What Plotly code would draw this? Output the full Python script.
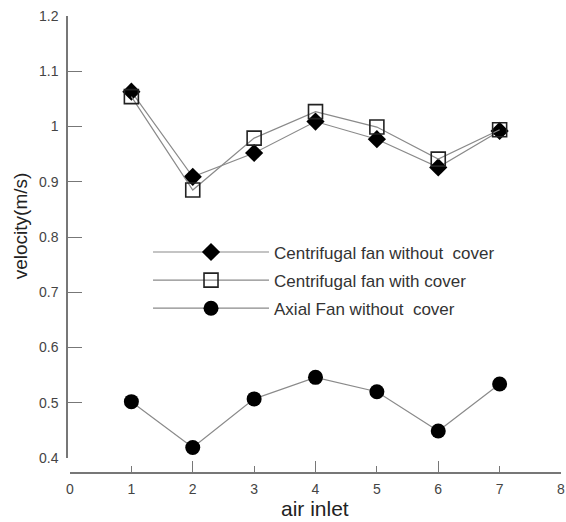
import plotly.graph_objects as go

air_inlet = [1, 2, 3, 4, 5, 6, 7]
cf_without_cover = [1.063, 0.909, 0.952, 1.009, 0.977, 0.926, 0.992]
cf_with_cover = [1.054, 0.885, 0.979, 1.027, 0.999, 0.941, 0.994]
axial_without_cover = [0.502, 0.419, 0.507, 0.546, 0.520, 0.449, 0.534]

series_names = ["Centrifugal fan without  cover", "Centrifugal fan with cover", "Axial Fan without  cover"]
x_ticks = [0, 1, 2, 3, 4, 5, 6, 7, 8]
x_major_ticks = [0, 2, 4, 6, 8]
y_ticks = [0.4, 0.5, 0.6, 0.7, 0.8, 0.9, 1.0, 1.1, 1.2]
y_tick_labels = ["0.4", "0.5", "0.6", "0.7", "0.8", "0.9", "1", "1.1", "1.2"]

FONT = "Liberation Sans, Arial, sans-serif"
LINE = "#8a8a8a"
AX = "#777777"

fig = go.Figure()
fig.add_trace(go.Scatter(x=air_inlet, y=cf_without_cover, name=series_names[0], mode="lines+markers",
                         legendgroup="a",
                         line=dict(color=LINE, width=1.2),
                         marker=dict(symbol="diamond", size=14, color="black")))
fig.add_trace(go.Scatter(x=air_inlet, y=cf_with_cover, name=series_names[1], mode="lines+markers",
                         legendgroup="b",
                         line=dict(color=LINE, width=1.2),
                         marker=dict(symbol="square-open", size=14, color="#222", line=dict(width=1.6, color="#222"))))
fig.add_trace(go.Scatter(x=air_inlet, y=axial_without_cover, name=series_names[2], mode="lines+markers",
                         legendgroup="c",
                         line=dict(color=LINE, width=1.2),
                         marker=dict(symbol="circle", size=15, color="black")))
fig.add_trace(go.Scatter(x=[None], y=[None], xaxis="x2", showlegend=False, hoverinfo="skip"))

fig.update_layout(
    width=566, height=522,
    margin=dict(l=67, r=5, t=16, b=49),
    paper_bgcolor="white", plot_bgcolor="white",
    showlegend=True,
    legend=dict(x=0.164, y=0.522, xanchor="left", yanchor="top", traceorder="grouped",
                font=dict(family=FONT, size=17, color="#333"), bgcolor="rgba(0,0,0,0)",
                itemwidth=116, tracegroupgap=3),
    xaxis=dict(range=[0, 8], domain=[0.00607, 1], anchor="free", position=0,
               tickvals=x_ticks, ticks="inside", ticklen=6, tickwidth=1.2, tickcolor=AX,
               showline=True, linecolor=AX, linewidth=1.5, showgrid=False, zeroline=False,
               tickfont=dict(family=FONT, size=14, color="#444"), ticklabelstandoff=3,
               automargin=False),
    xaxis2=dict(overlaying="x", range=[0, 8], domain=[0.00607, 1], anchor="free", position=0,
                tickvals=x_major_ticks, ticks="inside", ticklen=12, tickwidth=1.2, tickcolor=AX,
                showticklabels=False, showline=False, showgrid=False, zeroline=False, automargin=False),
    yaxis=dict(range=[0.4, 1.2], domain=[0.0328, 1], anchor="free", position=0,
               tickvals=y_ticks, ticktext=y_tick_labels, ticks="inside", ticklen=14, tickwidth=1.2,
               tickcolor=AX, showline=True, linecolor=AX, linewidth=1.5, showgrid=False, zeroline=False,
               tickfont=dict(family=FONT, size=14, color="#444"), ticklabelstandoff=5,
               automargin=False),
    annotations=[
        dict(text="velocity(m/s)", xref="paper", yref="paper", x=-0.095, y=0.54, textangle=-90,
             showarrow=False, xanchor="center", yanchor="middle",
             font=dict(family=FONT, size=19, color="#222")),
        dict(text="air inlet", xref="paper", yref="paper", x=0.502, y=-0.0766,
             showarrow=False, xanchor="center", yanchor="middle",
             font=dict(family=FONT, size=21, color="#222")),
    ],
)

fig.write_html("out.html")
